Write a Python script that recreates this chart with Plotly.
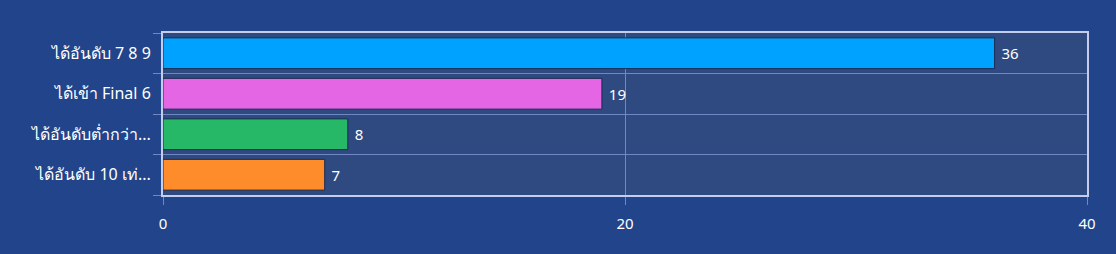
import plotly.graph_objects as go

categories = ["ได้อันดับ 7 8 9", "ได้เข้า Final 6", "ได้อันดับต่ำกว่า...", "ได้อันดับ 10 เท่..."]
values = [36, 19, 8, 7]
colors = ["#00a2ff", "#e466e4", "#26b866", "#ff8c2a"]
x_ticks = [0, 20, 40]

fig = go.Figure()
fig.add_trace(go.Bar(
    y=categories, x=values, orientation="h",
    marker=dict(color=colors, line=dict(color="#1a2a50", width=1)),
    text=[" " + str(v) for v in values], textposition="outside",
    textfont=dict(color="white", size=15, family="Noto Sans"),
    cliponaxis=False,
))
fig.update_layout(
    width=1116, height=254,
    margin=dict(l=163, r=29, t=33, b=59),
    paper_bgcolor="#22448a", plot_bgcolor="#2e4a80",
    showlegend=False, bargap=0.24,
    font=dict(family="Noto Sans", color="white", size=14),
)
fig.update_xaxes(
    range=[0, 40], tickvals=x_ticks, showgrid=True, gridcolor="#6f88c4", gridwidth=1,
    showline=True, linecolor="#c4cdec", linewidth=2, mirror=True,
    ticks="outside", ticklen=8, tickcolor="#6f88c4", ticklabelstandoff=6,
    tickfont=dict(color="white", size=15), zeroline=False,
)
fig.update_yaxes(
    categoryorder="array", categoryarray=categories[::-1],
    tickson="boundaries", showgrid=True, gridcolor="#6f88c4", gridwidth=1,
    showline=True, linecolor="#c4cdec", linewidth=2, mirror=True,
    ticks="outside", ticklen=8, tickcolor="#6f88c4", ticklabelstandoff=7,
    tickfont=dict(color="white", size=16, family="Noto Sans"),
)
fig.write_html("out.html")
